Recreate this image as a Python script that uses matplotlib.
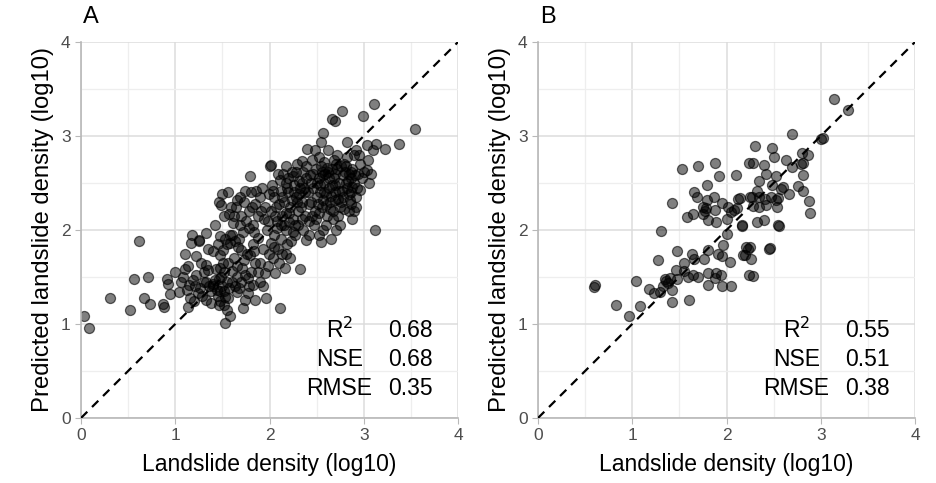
import numpy as np
import matplotlib
matplotlib.use("Agg")
import matplotlib.pyplot as plt

plt.rcParams['font.family'] = ['Liberation Sans', 'DejaVu Sans']

a_points = [
    (0.03,1.08),(0.08,0.96),(0.31,1.28),(0.52,1.15),(0.56,1.48),(0.62,1.88),(0.67,1.28),(0.71,1.50),
    (0.73,1.21),(0.87,1.21),(0.88,1.18),(0.91,1.48),(0.92,1.43),(0.94,1.32),(1.00,1.55),
    (1.06,1.45),(1.04,1.34),(1.10,1.59),(1.10,1.75),(1.17,1.86),(1.25,1.88),(1.14,1.18),(1.16,1.28),
    (1.19,1.47),(1.21,1.40),(1.26,1.38),(1.24,1.33),(1.27,1.65),(1.18,1.95),(1.33,1.97),(1.25,1.89),
    (1.12,1.36),(1.20,1.25),(1.28,1.30),(1.22,1.52),(1.30,1.45),(1.15,1.42),
    (1.33,1.63),(1.35,1.57),(1.33,1.26),(1.40,1.43),(1.44,1.36),(1.46,1.20),(1.49,1.50),(1.48,1.73),
    (1.51,1.79),(1.53,1.29),(1.55,1.15),(1.53,1.01),(1.58,1.08),(1.56,1.65),(1.50,2.38),(1.49,2.27),
    (1.59,2.24),(1.57,2.17),(1.48,1.94),(1.36,1.40),(1.38,1.35),(1.42,1.47),(1.45,1.30),(1.50,1.40),
    (1.52,1.35),(1.55,1.45),(1.47,1.60),(1.52,1.55),(1.55,1.85),(1.58,1.95),(1.53,1.90),(1.45,1.85),
    (1.40,1.78),(1.57,1.38),(1.48,1.25),(1.52,1.20),
    (1.08,1.50),(1.13,1.62),(1.22,1.72),(1.30,1.55),(1.35,1.80),(1.38,1.22),(1.43,1.58),(1.47,1.35),
    (1.51,1.65),(1.56,1.28),(1.60,1.45),(1.63,1.88),(1.68,1.38),(1.73,1.68),(1.78,1.40),(1.84,1.78),
    (1.90,1.45),(1.98,1.62),(2.05,1.82),(1.40,1.40),(1.33,1.45),(1.46,1.48),
    (1.61,2.07),(1.69,2.05),(1.69,2.35),(1.65,2.32),(1.60,1.56),(1.63,1.40),(1.65,1.34),(1.72,1.17),
    (1.74,1.26),(1.77,1.33),(1.85,1.26),(1.96,1.28),(1.93,1.40),(1.95,1.54),(1.99,1.75),(2.02,1.86),
    (1.74,1.52),(1.77,1.49),(1.85,1.65),(1.76,1.75),(1.70,1.79),(1.58,1.86),(1.79,2.57),(1.62,1.70),
    (1.66,1.62),(1.68,1.90),(1.72,1.98),(1.75,2.10),(1.78,2.20),(1.80,2.40),(1.82,2.05),(1.85,2.28),
    (1.88,2.15),(1.90,2.35),(1.92,2.45),(1.95,2.25),(1.98,2.10),(1.82,1.85),(1.88,1.92),(1.93,1.80),
    (1.97,2.00),(1.65,1.50),(1.70,1.45),(1.80,1.55),(1.83,1.42),(1.88,1.55),(1.90,1.65),(1.62,2.15),
    (1.73,2.30),(1.78,2.02),(1.86,2.42),(1.94,2.12),(1.67,1.82),(1.71,1.60),(1.79,1.73),
    (1.42,2.05),(1.46,2.30),(1.52,2.15),(1.56,2.40),(1.60,1.95),(1.64,2.25),(1.70,2.15),(1.74,2.42),
    (1.81,2.25),(1.84,1.98),(1.91,2.20),(1.99,2.38),
    (2.02,2.69),(2.00,2.68),(2.11,1.17),(2.32,1.59),(2.06,1.54),(2.18,1.75),(2.13,1.75),(2.23,1.88),
    (2.39,1.89),(2.25,1.98),(2.11,2.53),(2.25,2.57),(2.34,2.73),(2.40,2.86),(2.02,2.20),(2.05,2.35),
    (2.08,2.10),(2.10,2.28),(2.12,2.42),(2.15,2.05),(2.15,2.30),(2.18,2.18),(2.20,2.40),(2.22,2.25),
    (2.25,2.12),(2.28,2.35),(2.30,2.20),(2.32,2.45),(2.35,2.30),(2.38,2.15),(2.05,1.95),(2.08,2.02),
    (2.12,1.90),(2.18,2.00),(2.20,2.55),(2.28,2.62),(2.35,2.50),(2.38,2.40),(2.04,1.70),(2.10,1.65),
    (2.16,1.60),(2.22,1.70),(2.30,2.05),(2.36,2.00),(2.03,2.48),(2.14,2.60),(2.26,2.48),(2.33,2.25),
    (2.07,2.25),(2.24,2.32),(2.17,2.50),(2.31,2.38),(2.19,1.85),(2.27,1.95),(2.09,1.80),(2.36,2.62),
    (2.29,2.70),(2.21,2.08),(2.13,2.15),(2.39,2.55),
    (2.04,2.42),(2.09,2.60),(2.13,2.35),(2.17,2.68),(2.21,2.18),(2.24,2.62),(2.27,2.05),(2.31,2.52),
    (2.35,2.12),(2.39,2.68),(2.42,2.28),(2.46,2.60),(2.49,2.12),(2.06,2.15),(2.19,2.45),(2.29,2.30),
    (2.37,2.45),(2.44,2.50),(2.12,2.05),(2.26,2.40),
    (2.45,2.74),(2.53,2.78),(2.57,3.03),(2.55,2.94),(2.66,3.18),(2.70,3.16),(2.77,3.27),(2.68,2.74),
    (2.57,2.00),(2.55,1.87),(2.42,2.10),(2.44,2.30),(2.46,2.45),(2.48,2.20),(2.50,2.35),(2.52,2.55),
    (2.54,2.40),(2.56,2.25),(2.58,2.50),(2.60,2.38),(2.62,2.62),(2.64,2.30),(2.66,2.48),(2.68,2.55),
    (2.70,2.40),(2.72,2.65),(2.74,2.50),(2.76,2.30),(2.78,2.58),(2.43,2.58),(2.49,2.65),(2.55,2.68),
    (2.61,2.15),(2.67,2.20),(2.73,2.15),(2.75,2.05),(2.47,2.05),(2.52,1.95),(2.60,2.05),(2.65,1.90),
    (2.71,2.00),(2.41,2.40),(2.45,2.15),(2.50,2.50),(2.57,2.32),(2.63,2.45),(2.69,2.32),(2.77,2.42),
    (2.59,2.60),(2.51,2.28),(2.42,1.95),(2.79,2.70),(2.62,2.85),(2.58,2.72),(2.48,2.85),(2.66,2.65),
    (2.72,2.80),
    (2.52,2.18),(2.56,2.62),(2.60,2.27),(2.63,2.55),(2.67,2.12),(2.70,2.60),(2.73,2.33),(2.76,2.68),
    (2.79,2.22),(2.81,2.50),(2.84,2.38),(2.87,2.62),(2.90,2.20),(2.93,2.45),(2.54,2.48),(2.58,2.40),
    (2.65,2.36),(2.69,2.48),(2.74,2.42),(2.78,2.35),(2.83,2.52),(2.86,2.28),(2.91,2.58),(2.61,2.66),
    (2.75,2.25),(2.64,2.22),(2.88,2.46),(2.71,2.70),(2.57,2.58),(2.80,2.62),
    (2.82,2.94),(2.82,2.78),(2.99,3.21),(3.11,3.34),(3.54,3.07),(3.13,2.91),(3.23,2.86),(3.37,2.91),
    (3.03,2.90),(3.10,2.85),(2.92,2.85),(2.90,2.80),(3.05,2.74),(3.03,2.64),(2.96,2.43),(2.92,2.35),
    (2.85,2.32),(3.12,2.00),(2.82,2.45),(2.84,2.60),(2.86,2.55),(2.88,2.65),(2.90,2.50),(2.94,2.60),
    (2.96,2.70),(2.98,2.55),(3.00,2.62),(2.84,2.20),(2.88,2.12),(2.92,2.25),(3.06,2.50),(2.81,2.68),
    (2.87,2.40),(2.95,2.80),(3.08,2.60),
]

# panel B
b_points = [
    (0.60,1.41),(0.59,1.39),(0.83,1.20),(0.97,1.09),(1.08,1.19),(1.04,1.46),(1.18,1.37),(1.23,1.33),
    (1.29,1.34),(1.33,1.40),(1.35,1.48),(1.38,1.44),(1.42,1.36),(1.42,1.23),(1.27,1.68),(1.47,1.78),
    (1.46,1.57),(1.48,1.48),(1.55,1.65),(1.55,1.56),(1.60,1.26),(1.63,1.75),(1.65,1.69),(1.59,1.50),
    (1.64,1.52),(1.70,1.50),(1.76,1.69),(1.80,1.79),(1.80,1.54),(1.80,1.41),(1.89,1.54),(1.88,1.49),
    (1.94,1.52),(1.95,1.40),(2.05,1.40),(1.91,1.75),(1.96,1.84),(1.95,1.72),(2.04,1.66),(2.00,1.96),
    (2.16,2.04),(2.20,1.73),(2.21,1.82),(2.24,1.52),(1.31,1.99),(1.36,1.46),(1.40,1.49),
    (1.53,2.65),(1.70,2.68),(1.88,2.71),(1.92,2.57),(2.10,2.59),(2.24,2.71),(1.79,2.48),(1.66,2.40),
    (1.69,2.35),(1.42,2.29),(1.87,2.35),(1.79,2.32),(1.95,2.29),(2.12,2.33),(2.25,2.35),(1.75,2.25),
    (1.78,2.23),(1.88,2.21),(2.02,2.25),(2.05,2.19),(2.11,2.23),(1.64,2.17),(1.58,2.14),(1.75,2.17),
    (1.80,2.11),(1.89,2.09),(2.00,2.12),(2.16,2.05),(1.77,2.20),(2.08,2.21),
    (3.14,3.39),(3.29,3.28),(2.70,3.02),(3.02,2.98),(3.00,2.97),(2.30,2.89),(2.48,2.87),(2.50,2.78),
    (2.28,2.71),(2.40,2.69),(2.42,2.60),(2.63,2.74),(2.69,2.67),(2.80,2.82),(2.87,2.80),(2.81,2.71),
    (2.81,2.59),(2.34,2.52),(2.53,2.57),(2.48,2.48),(2.60,2.46),(2.76,2.47),(2.66,2.38),(2.81,2.41),
    (2.88,2.31),(2.89,2.18),(2.32,2.41),(2.27,2.35),(2.35,2.35),(2.41,2.33),(2.47,2.35),(2.53,2.32),
    (2.55,2.34),(2.28,2.26),(2.34,2.25),(2.42,2.27),(2.54,2.25),(2.32,2.09),(2.40,2.11),(2.55,2.05),
    (2.56,2.04),(2.14,2.34),(2.79,2.70),(2.58,2.44),
    (2.23,1.80),(2.25,1.82),(2.18,1.73),(2.26,1.69),(2.45,1.80),(2.46,1.81),(2.28,1.51),
]

a_obs = [p[0] for p in a_points]
a_pred = [p[1] for p in a_points]
b_obs = [p[0] for p in b_points]
b_pred = [p[1] for p in b_points]

metric_names = ['R$^2$', 'NSE', 'RMSE']
a_metrics = ['0.68', '0.68', '0.35']
b_metrics = ['0.55', '0.51', '0.38']

fig = plt.figure(figsize=(9.36, 4.83), dpi=100)
ax1 = fig.add_axes([81/936, 65/483, 377/936, 376/483])
ax2 = fig.add_axes([538/936, 65/483, 377/936, 376/483])

for ax, xs, ys, lab, mets in [(ax1, a_obs, a_pred, 'A', a_metrics),
                              (ax2, b_obs, b_pred, 'B', b_metrics)]:
    ax.set_xlim(0, 4)
    ax.set_ylim(0, 4)
    ax.set_xticks([0, 1, 2, 3, 4])
    ax.set_yticks([0, 1, 2, 3, 4])
    ax.set_xticks([0.5, 1.5, 2.5, 3.5], minor=True)
    ax.set_yticks([0.5, 1.5, 2.5, 3.5], minor=True)
    ax.grid(True, which='major', color='#dcdcdc', lw=1.1)
    ax.grid(True, which='minor', color='#eeeeee', lw=0.9)
    ax.set_axisbelow(True)
    for s in ['top', 'right']:
        ax.spines[s].set_visible(False)
    for s in ['left', 'bottom']:
        ax.spines[s].set_color('#b8b8b8')
        ax.spines[s].set_linewidth(1.2)
    ax.tick_params(which='major', length=4, color='#b8b8b8', labelcolor='#4d4d4d', labelsize=12.5)
    ax.tick_params(which='minor', length=0)

    ax.plot([0, 4], [0, 4], ls=(0, (4, 3)), color='black', lw=1.6, zorder=3)
    ax.scatter(xs, ys, s=52, facecolor=(0, 0, 0, 0.5), edgecolor=(0, 0, 0, 0.6),
               linewidth=0.9, zorder=2)

    ax.set_xlabel('Landslide density (log10)', fontsize=16.5, labelpad=7)
    ax.set_ylabel('Predicted landslide density (log10)', fontsize=17.2, labelpad=5)
    ax.text(0.005, 1.05, lab, transform=ax.transAxes, fontsize=17, ha='left', va='baseline')

    for i, (name, val) in enumerate(zip(metric_names, mets)):
        yy = 0.93 - i * 0.31
        ax.text(2.74, yy, name, ha='center', va='center', fontsize=16.5)
        ax.text(3.26, yy, val, ha='left', va='center', fontsize=16.5)

fig.savefig('out.png', dpi=100)
